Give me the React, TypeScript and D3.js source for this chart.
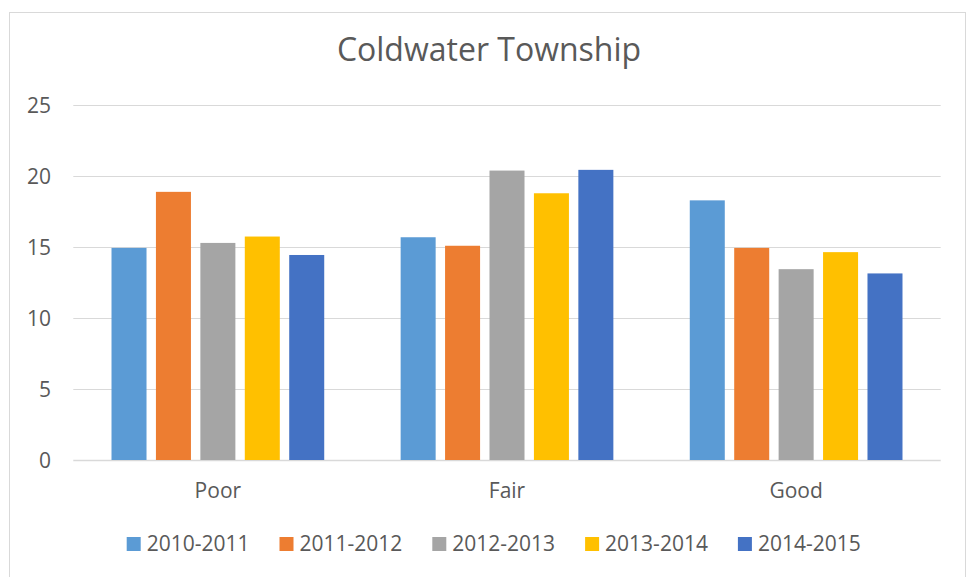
import React from 'react';
import * as d3 from 'd3';

// chart data
const categories = ['Poor', 'Fair', 'Good'];
const seriesNames = ['2010-2011', '2011-2012', '2012-2013', '2013-2014', '2014-2015'];
const poorValues = [14.95, 18.9, 15.3, 15.75, 14.45];
const fairValues = [15.7, 15.1, 20.4, 18.8, 20.45];
const goodValues = [18.3, 14.95, 13.45, 14.65, 13.15];
const yTicks = [0, 5, 10, 15, 20, 25];
const colors = ['#5B9BD5', '#ED7D31', '#A5A5A5', '#FFC000', '#4472C4'];

const valuesByCategory = [poorValues, fairValues, goodValues];

const W = 969;
const H = 577;
const plot = { left: 73.3, right: 940.7, top: 105.3, bottom: 460 };
const font = '"Open Sans", sans-serif';
const textColor = '#595959';

export default function App() {
  const x0 = d3.scaleBand().domain(categories).range([plot.left, plot.right]).padding(0);
  const x1 = d3
    .scaleBand()
    .domain(seriesNames)
    .range([0, x0.bandwidth()])
    .paddingInner(0.212)
    .paddingOuter(0.86);
  const y = d3.scaleLinear().domain([0, 25]).range([plot.bottom, plot.top]);

  const legendStep = 152.8;
  const legendStart = 126.7;

  return (
    <div style={{ position: 'absolute', left: 0, top: 0 }}>
      <svg width={W} height={H} style={{ display: 'block', background: '#fff' }}>
        <rect x={9.5} y={12.5} width={956} height={580} fill="#fff" stroke="#d9d9d9" strokeWidth={1} />

        <text
          x={489}
          y={61}
          textAnchor="middle"
          fontFamily={font}
          fontSize={32}
          fill={textColor}
        >
          Coldwater Township
        </text>

        {/* grid + y labels */}
        {yTicks.map((t) => (
          <g key={'t' + t}>
            <line
              x1={plot.left}
              x2={plot.right}
              y1={Math.round(y(t)) + 0.5}
              y2={Math.round(y(t)) + 0.5}
              stroke="#d9d9d9"
              strokeWidth={t === 0 ? 1.5 : 1}
            />
            <text
              x={51}
              y={y(t)}
              dy="0.36em"
              textAnchor="end"
              fontFamily={font}
              fontSize={21}
              fill={textColor}
            >
              {t}
            </text>
          </g>
        ))}

        {/* bars */}
        {categories.map((c, ci) => (
          <g key={c} transform={`translate(${x0(c)},0)`}>
            {seriesNames.map((s, si) => {
              const v = valuesByCategory[ci][si];
              return (
                <rect
                  key={s}
                  x={x1(s)}
                  y={y(v)}
                  width={x1.bandwidth()}
                  height={y(0) - y(v)}
                  fill={colors[si]}
                />
              );
            })}
          </g>
        ))}

        {/* category labels */}
        {categories.map((c) => (
          <text
            key={'c' + c}
            x={(x0(c) as number) + x0.bandwidth() / 2}
            y={498}
            textAnchor="middle"
            fontFamily={font}
            fontSize={21}
            fill={textColor}
          >
            {c}
          </text>
        ))}

        {/* legend */}
        {seriesNames.map((s, i) => {
          const lx = legendStart + i * legendStep;
          return (
            <g key={'l' + s}>
              <rect x={lx} y={537} width={14} height={14} fill={colors[i]} />
              <text x={lx + 20} y={551} fontFamily={font} fontSize={21} fill={textColor}>
                {s}
              </text>
            </g>
          );
        })}
      </svg>
    </div>
  );
}
